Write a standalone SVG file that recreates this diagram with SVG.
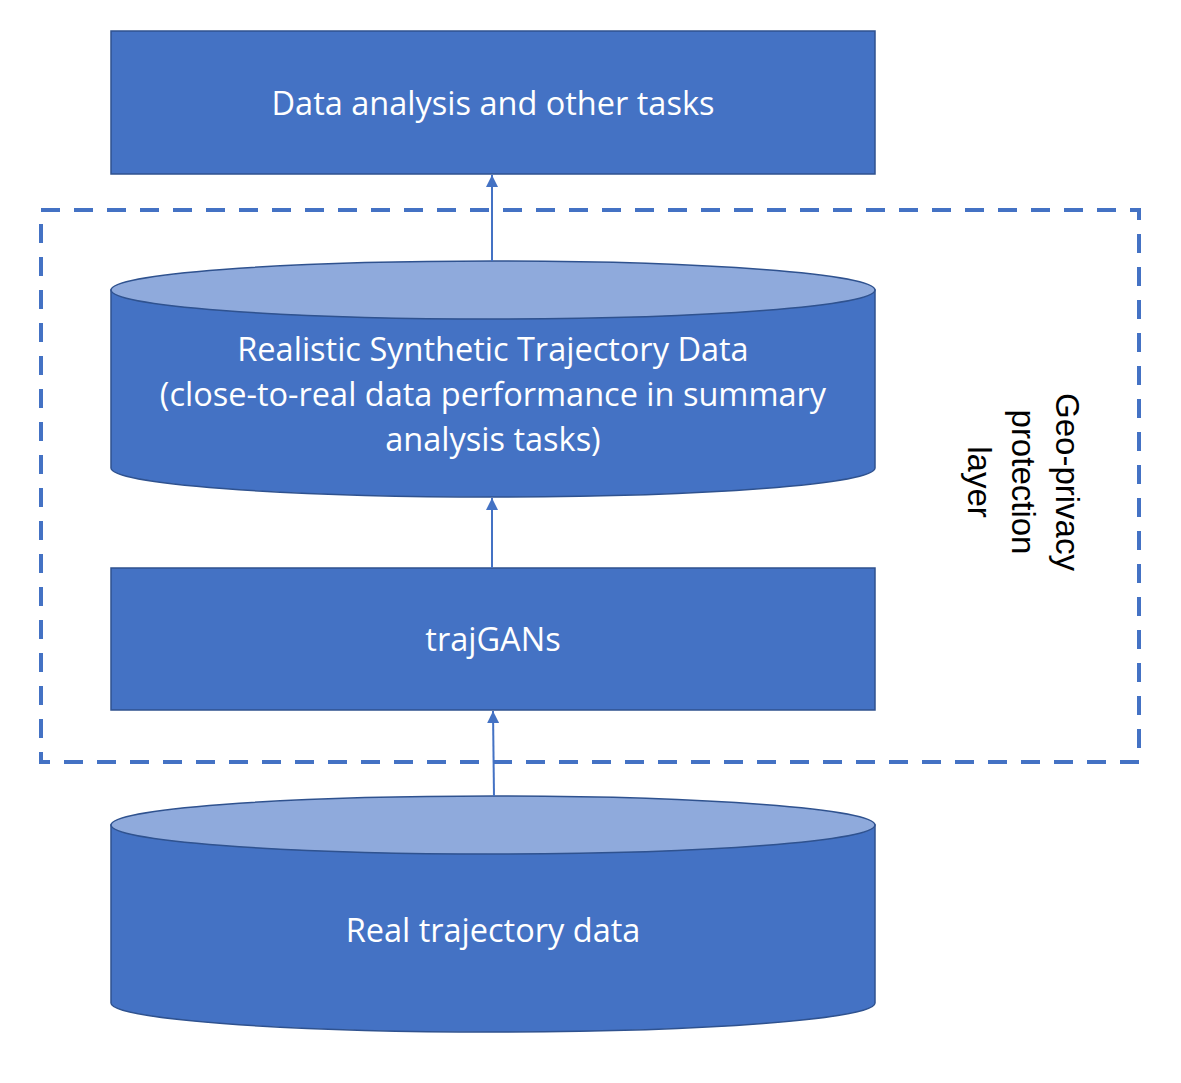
<svg xmlns="http://www.w3.org/2000/svg" width="1181" height="1083" viewBox="0 0 1181 1083">
<style>
.box{fill:#4472C4;stroke:#2F528F;stroke-width:1.5}
.top{fill:#8FAADC;stroke:#2F528F;stroke-width:1.5}
.lbl{font-family:"Open Sans","Noto Sans",sans-serif;font-size:32.5px;fill:#fff;text-anchor:middle}
.side{font-family:"Liberation Sans",Arial,sans-serif;font-size:33px;fill:#000;text-anchor:middle}
.conn{stroke:#4472C4;stroke-width:2;fill:none}
</style>
<defs>
<marker id="ah" viewBox="0 0 10 10" refX="10" refY="5" markerWidth="6" markerHeight="6" orient="auto" markerUnits="strokeWidth">
<path d="M0,0 L10,5 L0,10 z" fill="#4472C4"/>
</marker>
</defs>
<rect width="1181" height="1083" fill="#fff"/>
<g id="privacy-layer">
<rect x="41" y="210" width="1098" height="552" fill="none" stroke="#4472C4" stroke-width="4" stroke-dasharray="19,14"/>
<text class="side" transform="translate(1016,482) rotate(90)"><tspan x="0" y="-40">Geo-privacy</tspan><tspan x="0" y="4">protection</tspan><tspan x="0" y="48">layer</tspan></text>
</g>
<g id="data-analysis">
<rect class="box" x="111" y="31" width="764" height="143"/>
<text class="lbl" x="493" y="115">Data analysis and other tasks</text>
</g>
<g id="synthetic-data">
<path class="box" d="M111,290 L111,468 A382,29 0 0 0 875,468 L875,290 Z"/>
<ellipse class="top" cx="493" cy="290" rx="382" ry="29"/>
<text class="lbl" x="493" y="361">Realistic Synthetic Trajectory Data</text>
<text class="lbl" x="493" y="406">(close-to-real data performance in summary</text>
<text class="lbl" x="493" y="451">analysis tasks)</text>
</g>
<g id="trajgans">
<rect class="box" x="111" y="568" width="764" height="142"/>
<text class="lbl" x="493" y="651">trajGANs</text>
</g>
<g id="real-data">
<path class="box" d="M111,825 L111,1003 A382,29 0 0 0 875,1003 L875,825 Z"/>
<ellipse class="top" cx="493" cy="825" rx="382" ry="29"/>
<text class="lbl" x="493" y="942">Real trajectory data</text>
</g>
<g id="connectors">
<line class="conn" x1="492" y1="261" x2="492" y2="175" marker-end="url(#ah)"/>
<line class="conn" x1="492" y1="568" x2="492" y2="498" marker-end="url(#ah)"/>
<line class="conn" x1="494" y1="796" x2="493" y2="711" marker-end="url(#ah)"/>
</g>
</svg>
